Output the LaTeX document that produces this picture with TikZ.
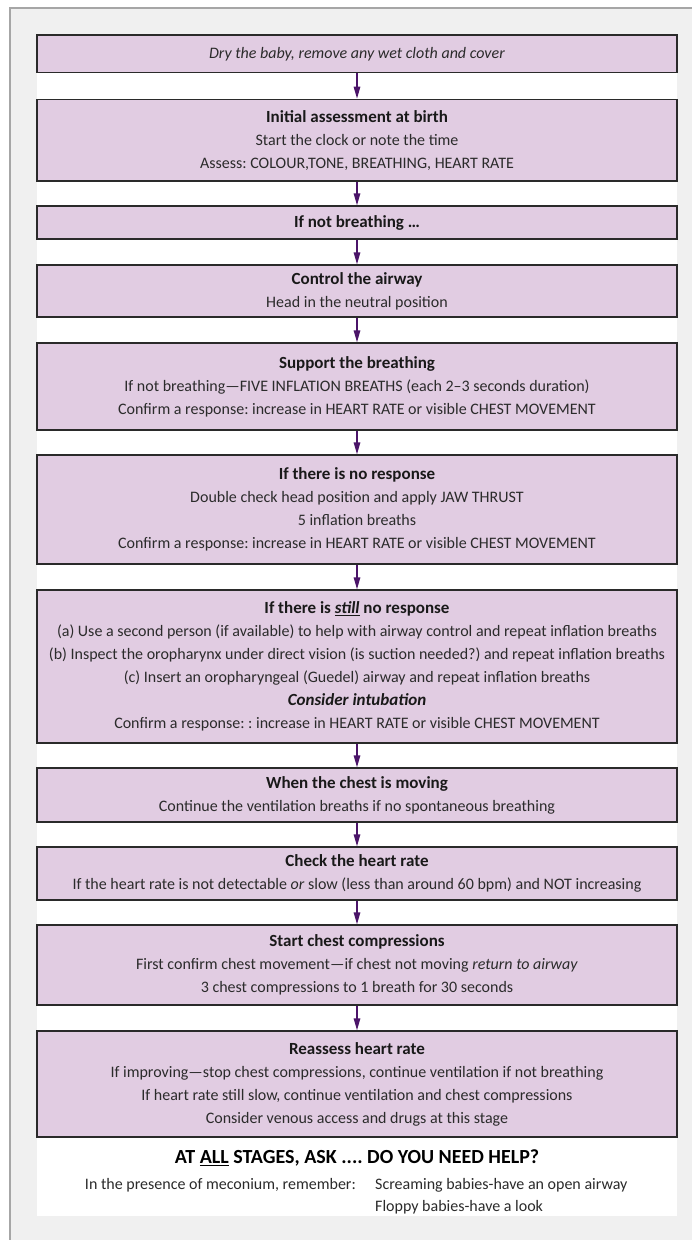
\documentclass[tikz,border=0pt]{standalone}
\usepackage{fontspec}
\setmainfont{Carlito}
\frenchspacing
\usetikzlibrary{arrows.meta}
\definecolor{boxfill}{HTML}{E1CCE2}
\definecolor{boxline}{HTML}{2A2A2A}
\definecolor{arrowcol}{HTML}{4B1469}
\definecolor{txt}{HTML}{2B2B2B}
\definecolor{outergray}{HTML}{F0F0F0}
\definecolor{framegray}{HTML}{A6A6A6}
\newcommand{\boxtitle}[1]{{\fontsize{17}{23}\selectfont\bfseries\color{black!90}#1}}
\tikzset{
  stepbox/.style={draw=boxline, fill=boxfill, line width=1.4pt, minimum width=640pt,
    align=center, inner sep=0pt, text=txt,
    font=\fontsize{16}{23}\selectfont},
  flowarrow/.style={draw=arrowcol, line width=1.4pt, -{Triangle[length=12pt,width=6.5pt]}},
  notetext/.style={text=txt, inner sep=0pt, font=\fontsize{16}{23}\selectfont}
}
\begin{document}
\begin{tikzpicture}[x=1pt,y=1pt]
\useasboundingbox (0,0) rectangle (692,-1240);
\fill[white] (0,0) rectangle (692,-1240);
\filldraw[fill=outergray, draw=framegray, line width=1.2pt] (10,-8) rectangle (710,-1260);
\fill[white] (37,-35) rectangle (677,-1216);

\node[stepbox, minimum height=37.7pt] (b1) at (357,-53.85)
  {\textit{Dry the baby, remove any wet cloth and cover}};
\node[stepbox, minimum height=81.7pt] (b2) at (357,-140.2)
  {\boxtitle{Initial assessment at birth}\\Start the clock or note the time\\Assess: COLOUR,TONE, BREATHING, HEART RATE};
\node[stepbox, minimum height=33pt] (b3) at (357,-222.5)
  {\boxtitle{If not breathing \dots}};
\node[stepbox, minimum height=52pt] (b4) at (357,-291)
  {\boxtitle{Control the airway}\\Head in the neutral position};
\node[stepbox, minimum height=87pt] (b5) at (357,-386.5)
  {\boxtitle{Support the breathing}\\If not breathing---FIVE INFLATION BREATHS (each 2--3 seconds duration)\\Confirm a response: increase in HEART RATE or visible CHEST MOVEMENT};
\node[stepbox, minimum height=109pt] (b6) at (357,-509.5)
  {\boxtitle{If there is no response}\\Double check head position and apply JAW THRUST\\5 inflation breaths\\Confirm a response: increase in HEART RATE or visible CHEST MOVEMENT};
\node[stepbox, minimum height=153pt] (b7) at (357,-666.5)
  {\boxtitle{If there is \underline{\textit{still}} no response}\\(a) Use a second person (if available) to help with airway control and repeat inflation breaths\\(b) Inspect the oropharynx under direct vision (is suction needed?) and repeat inflation breaths\\(c) Insert an oropharyngeal (Guedel) airway and repeat inflation breaths\\\boxtitle{\textit{Consider intubation}}\\Confirm a response: : increase in HEART RATE or visible CHEST MOVEMENT};
\node[stepbox, minimum height=54pt] (b8) at (357,-795)
  {\boxtitle{When the chest is moving}\\Continue the ventilation breaths if no spontaneous breathing};
\node[stepbox, minimum height=53pt] (b9) at (357,-873.5)
  {\boxtitle{Check the heart rate}\\If the heart rate is not detectable \textit{or} slow (less than around 60 bpm) and NOT increasing};
\node[stepbox, minimum height=80pt] (b10) at (357,-965)
  {\boxtitle{Start chest compressions}\\First confirm chest movement---if chest not moving \textit{return to airway}\\3 chest compressions to 1 breath for 30 seconds};
\node[stepbox, minimum height=106pt] (b11) at (357,-1084)
  {\boxtitle{Reassess heart rate}\\If improving---stop chest compressions, continue ventilation if not breathing\\If heart rate still slow, continue ventilation and chest compressions\\Consider venous access and drugs at this stage};

\foreach \a/\b in {b1/b2,b2/b3,b3/b4,b4/b5,b5/b6,b6/b7,b7/b8,b8/b9,b9/b10,b10/b11}
  \draw[flowarrow] (\a.south) -- (\b.north);

\node[notetext, font=\fontsize{20}{23}\selectfont\bfseries, text=black] (help) at (357,-1158)
  {AT \underline{ALL} STAGES, ASK .... DO YOU NEED HELP?};
\node[notetext, anchor=east] (meco) at (356,-1185) {In the presence of meconium, remember:};
\node[notetext, anchor=west] (scream) at (375,-1185) {Screaming babies-have an open airway};
\node[notetext, anchor=west] (floppy) at (375,-1207) {Floppy babies-have a look};
\end{tikzpicture}
\end{document}
